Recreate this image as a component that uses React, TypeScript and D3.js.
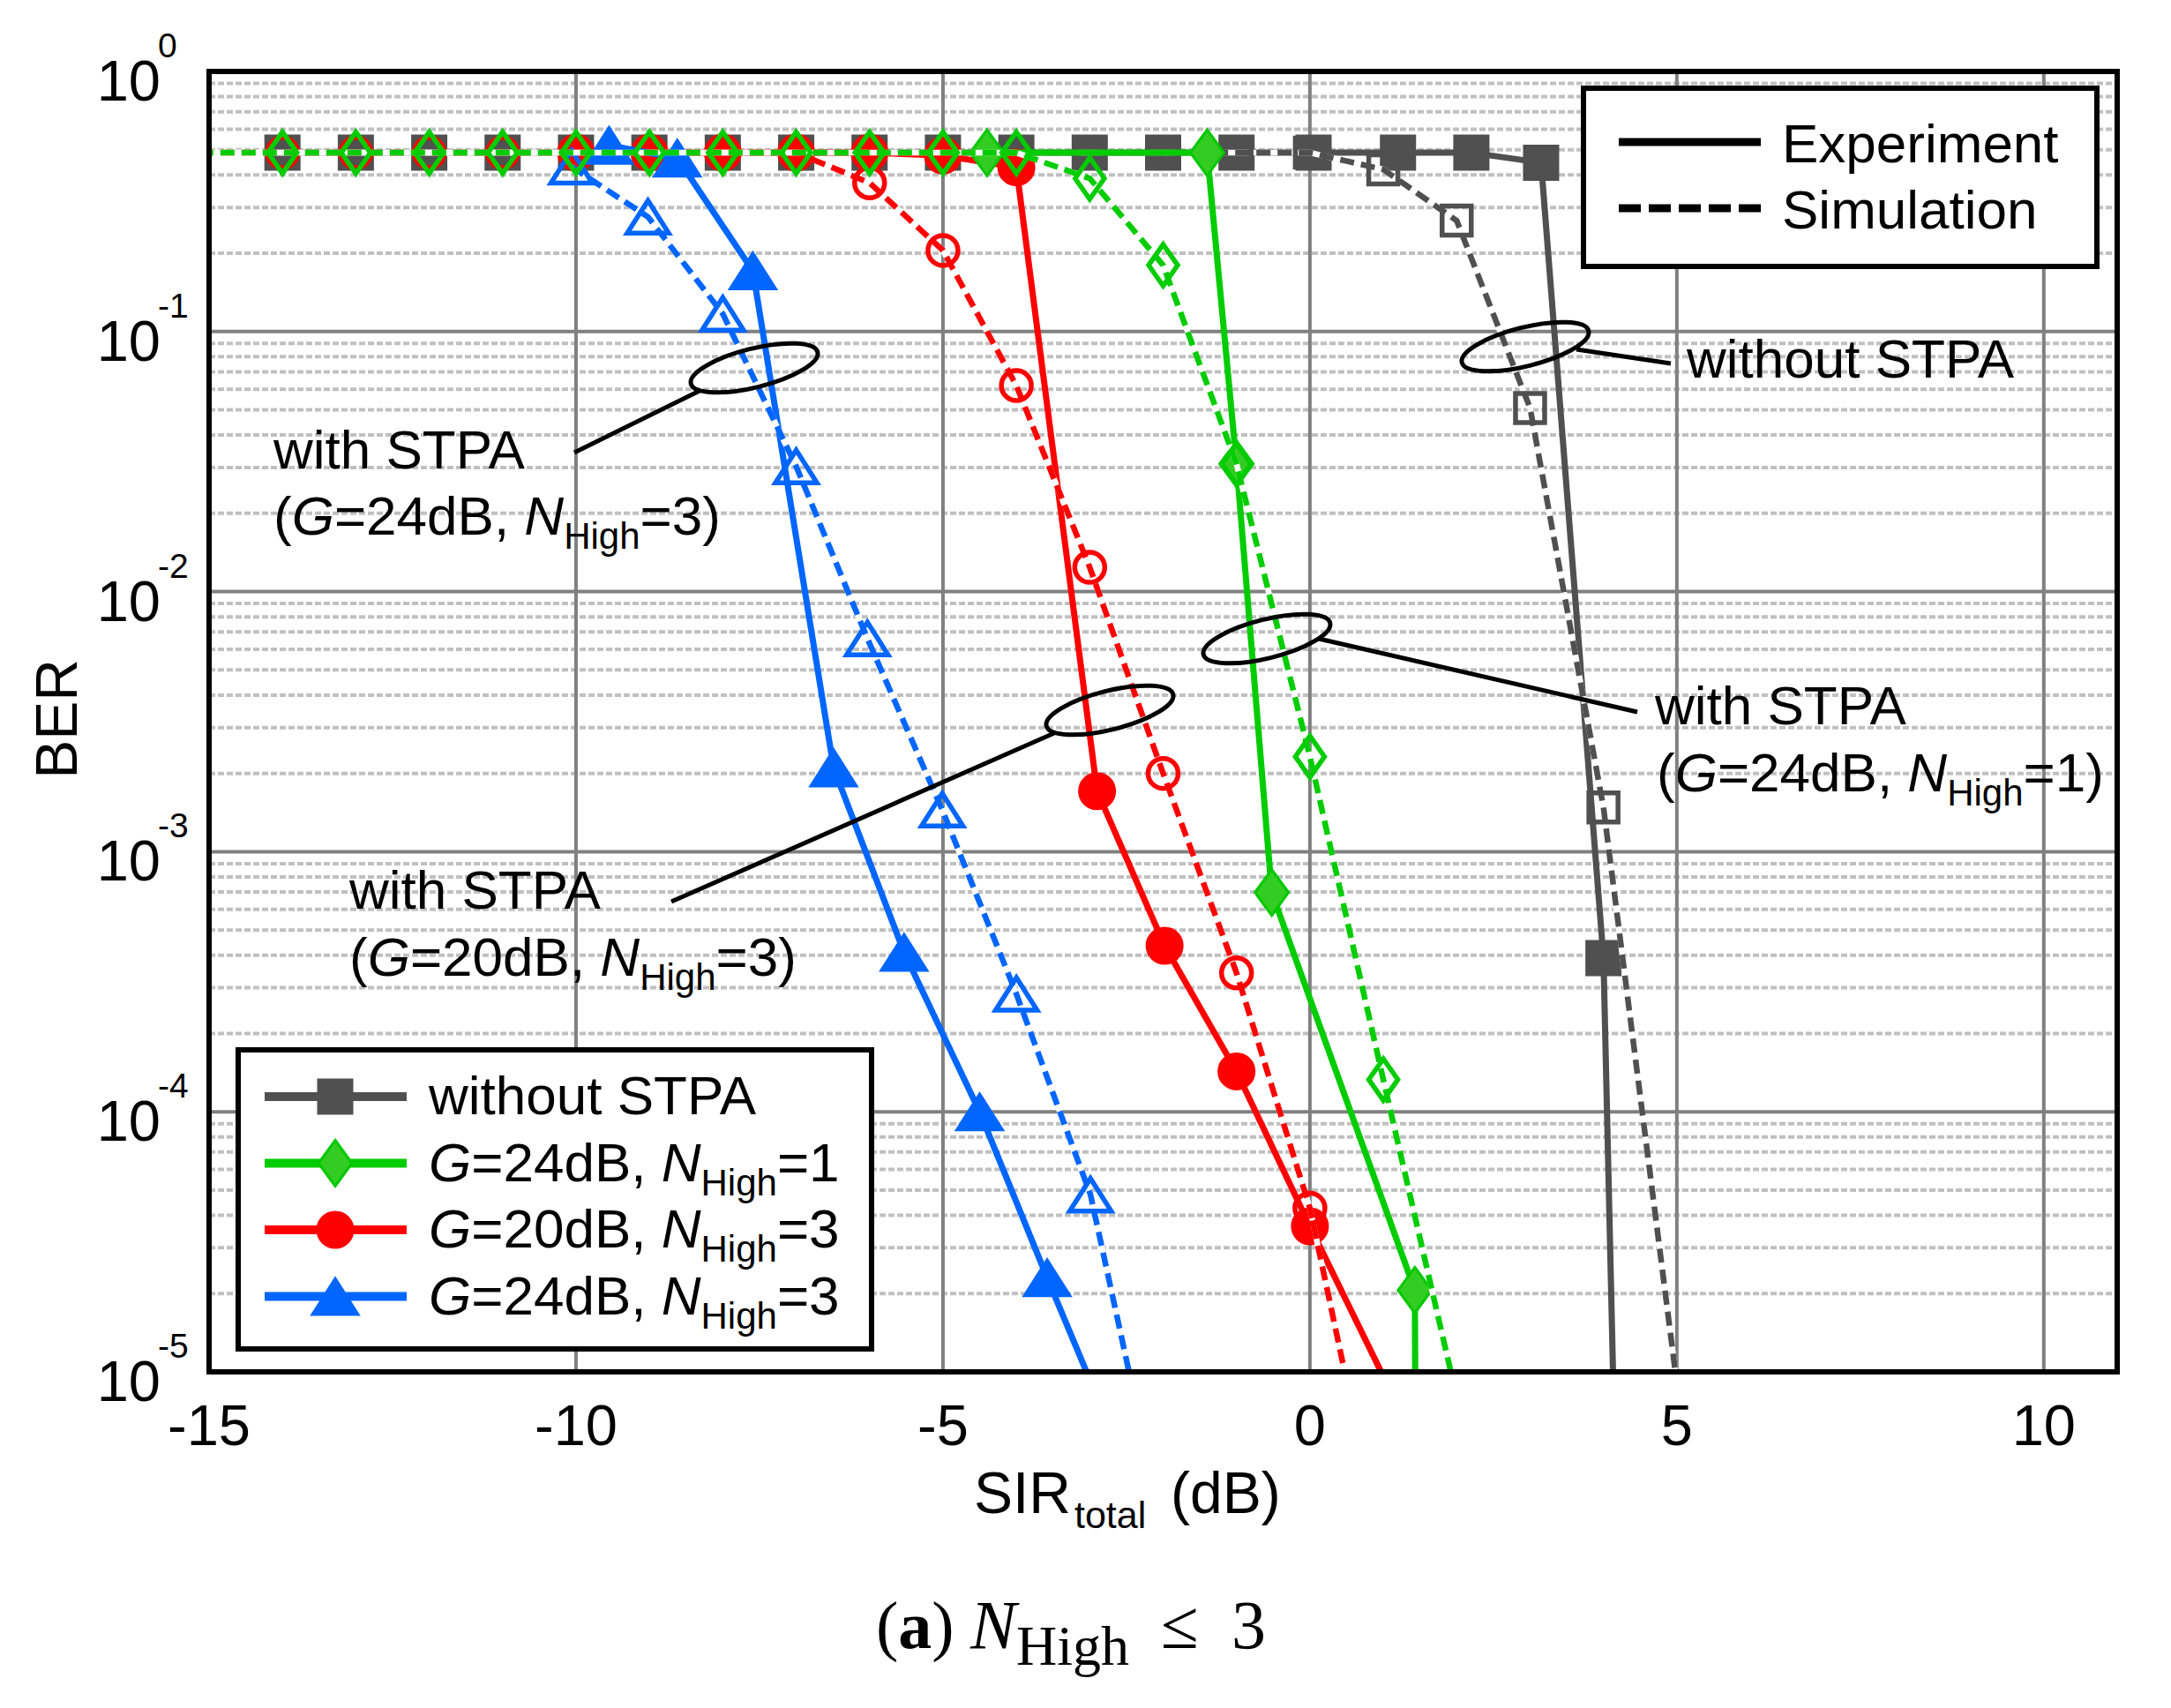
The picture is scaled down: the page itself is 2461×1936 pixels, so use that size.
import { useEffect, useRef } from "react";
import * as d3 from "d3";

// without STPA
const sirNoStpaExp = [-14, -13, -12, -11, -10, -9, -8, -7, -6, -5, -4, -3, -2, -1, 0.05, 1.2, 2.2, 3.15, 4.0, 4.2];
const berNoStpaExp = [0.487, 0.487, 0.487, 0.487, 0.487, 0.487, 0.487, 0.487, 0.487, 0.487, 0.487, 0.487, 0.487, 0.487, 0.487, 0.487, 0.487, 0.446, 3.9e-4, 1.4e-6];
const sirNoStpaSim = [-14, -13, -12, -11, -10, -9, -8, -7, -6, -5, -4, -3, -2, -1, 0, 1, 2, 3, 4, 5];
const berNoStpaSim = [0.487, 0.487, 0.487, 0.487, 0.487, 0.487, 0.487, 0.487, 0.487, 0.487, 0.487, 0.487, 0.487, 0.487, 0.487, 0.42, 0.267, 0.0508, 1.48e-3, 9e-6];

// G=24dB, N_High=1
const sirG24N1Exp = [-4.4, -1.4, -1.0, -0.52, 1.43, 1.45];
const berG24N1Exp = [0.487, 0.487, 0.031, 6.97e-4, 2.06e-5, 1e-6];
const sirG24N1Sim = [-16, -14, -13, -12, -11, -10, -9, -8, -7, -6, -5, -4, -3, -2, -1, 0, 1, 2];
const berG24N1Sim = [0.487, 0.487, 0.487, 0.487, 0.487, 0.487, 0.487, 0.487, 0.487, 0.487, 0.487, 0.487, 0.388, 0.18, 0.031, 2.32e-3, 1.33e-4, 8e-6];

// G=20dB, N_High=3
const sirG20N3Exp = [-10, -9, -8, -7, -6, -5, -4, -2.9, -1.98, -1.0, 0.0, 1.05];
const berG20N3Exp = [0.487, 0.487, 0.487, 0.487, 0.487, 0.475, 0.428, 1.71e-3, 4.35e-4, 1.43e-4, 3.63e-5, 9e-6];
const sirG20N3Sim = [-16, -14, -13, -12, -11, -10, -9, -8, -7, -6, -5, -4, -3, -2, -1, 0, 1];
const berG20N3Sim = [0.487, 0.487, 0.487, 0.487, 0.487, 0.487, 0.487, 0.487, 0.487, 0.373, 0.205, 0.062, 0.0124, 2.0e-3, 3.42e-4, 4.26e-5, 2e-6];

// G=24dB, N_High=3
const sirG24N3Exp = [-9.55, -8.62, -7.59, -6.49, -5.53, -4.5, -3.58, -2.5];
const berG24N3Exp = [0.52, 0.464, 0.171, 2.1e-3, 4.1e-4, 1.0e-4, 2.3e-5, 4.3e-6];
const sirG24N3Sim = [-10.06, -9.02, -8.0, -7.0, -6.03, -5.01, -4.0, -2.99, -2.0];
const berG24N3Sim = [0.43, 0.276, 0.117, 0.0303, 6.6e-3, 1.45e-3, 2.84e-4, 4.8e-5, 2.5e-6];

const sirTicks = [-15, -10, -5, 0, 5, 10];
const berExponents = [0, -1, -2, -3, -4, -5];
const styleLabels = ["Experiment", "Simulation"];

type Part = { t: string; it?: boolean; sub?: boolean; b?: boolean };

const label = (g: string, n: string): Part[] => [
  { t: "G", it: true },
  { t: `=${g}dB, ` },
  { t: "N", it: true },
  { t: "High", sub: true },
  { t: `=${n}` },
];

const legendLabels: Part[][] = [
  [{ t: "without STPA" }],
  label("24", "1"),
  label("20", "3"),
  label("24", "3"),
];

const SANS = "'Liberation Sans', Arial, sans-serif";
const SERIF = "'Liberation Serif', 'Times New Roman', serif";

function markerPath(shape: string, open: boolean) {
  if (shape === "square") {
    const h = open ? 16.5 : 19;
    return `M${-h},${-h}H${h}V${h}H${-h}Z`;
  }
  if (shape === "diamond") {
    const w = open ? 16.5 : 19;
    const h = open ? 23.5 : 26;
    return `M0,${-h}L${w},0L0,${h}L${-w},0Z`;
  }
  if (shape === "triangle") {
    const w = open ? 23.5 : 26;
    const h = open ? 18.5 : 20.5;
    return `M0,${-h}L${w},${h}L${-w},${h}Z`;
  }
  const r = open ? 17 : 20;
  return `M${r},0A${r},${r} 0 1,1 ${-r},0A${r},${r} 0 1,1 ${r},0Z`;
}

function richText(
  g: d3.Selection<SVGGElement, unknown, null, undefined>,
  x: number,
  y: number,
  parts: Part[],
  size: number,
  subSize: number,
  subDy: number,
  family: string
) {
  const text = g
    .append("text")
    .attr("x", x)
    .attr("y", y)
    .style("font-family", family)
    .style("font-size", `${size}px`)
    .style("white-space", "pre")
    .attr("fill", "#000");
  let lowered = false;
  parts.forEach((p) => {
    const ts = text.append("tspan").text(p.t);
    if (p.it) ts.style("font-style", "italic");
    if (p.b) ts.style("font-weight", "bold");
    if (p.sub) {
      ts.style("font-size", `${subSize}px`);
      if (!lowered) ts.attr("dy", subDy);
      lowered = true;
    } else if (lowered) {
      ts.attr("dy", -subDy);
      lowered = false;
    }
  });
  return text;
}

export default function App() {
  const ref = useRef<SVGSVGElement>(null);

  useEffect(() => {
    document.body.style.margin = "0";
    if (!ref.current) return;
    const svg = d3.select(ref.current);
    svg.selectAll("*").remove();

    const left = 237;
    const right = 2400;
    const top = 81;
    const bottom = 1555;

    const x = d3.scaleLinear().domain([-15, 11]).range([left, right]);
    const y = d3.scaleLog().domain([1e-5, 1]).range([bottom, top]);

    const series = [
      { color: "#505050", fill: "#505050", edge: "#505050", shape: "square", exp: [sirNoStpaExp, berNoStpaExp], sim: [sirNoStpaSim, berNoStpaSim] },
      { color: "#ff0000", fill: "#ff0000", edge: "#ff0000", shape: "circle", exp: [sirG20N3Exp, berG20N3Exp], sim: [sirG20N3Sim, berG20N3Sim] },
      { color: "#0066ff", fill: "#0066ff", edge: "#0066ff", shape: "triangle", exp: [sirG24N3Exp, berG24N3Exp], sim: [sirG24N3Sim, berG24N3Sim] },
      { color: "#00cc00", fill: "#33cc22", edge: "#00c800", shape: "diamond", exp: [sirG24N1Exp, berG24N1Exp], sim: [sirG24N1Sim, berG24N1Sim] },
    ];
    // legend order differs from drawing order
    const legendSeries = [series[0], series[3], series[1], series[2]];

    svg.append("rect").attr("width", 2461).attr("height", 1936).attr("fill", "#fff");

    svg
      .append("defs")
      .append("clipPath")
      .attr("id", "plot-clip")
      .append("rect")
      .attr("x", left)
      .attr("y", top)
      .attr("width", right - left)
      .attr("height", bottom - top);

    // minor horizontal grid (dotted)
    const grid = svg.append("g");
    const minor: number[] = [];
    for (let e = -5; e < 0; e++) for (let m = 2; m <= 9; m++) minor.push(m * Math.pow(10, e));
    grid
      .selectAll(".minor")
      .data(minor)
      .enter()
      .append("line")
      .attr("x1", left)
      .attr("x2", right)
      .attr("y1", (d) => y(d))
      .attr("y2", (d) => y(d))
      .attr("stroke", "#c0c0c0")
      .attr("stroke-width", 4)
      .attr("stroke-dasharray", "7 3");

    // major grid
    grid
      .selectAll(".hmajor")
      .data(berExponents.filter((e) => e !== 0 && e !== -5))
      .enter()
      .append("line")
      .attr("x1", left)
      .attr("x2", right)
      .attr("y1", (d) => y(Math.pow(10, d)))
      .attr("y2", (d) => y(Math.pow(10, d)))
      .attr("stroke", "#808080")
      .attr("stroke-width", 4);
    grid
      .selectAll(".vmajor")
      .data(sirTicks.filter((t) => t !== -15))
      .enter()
      .append("line")
      .attr("x1", (d) => x(d))
      .attr("x2", (d) => x(d))
      .attr("y1", top)
      .attr("y2", bottom)
      .attr("stroke", "#808080")
      .attr("stroke-width", 4);

    const plot = svg.append("g").attr("clip-path", "url(#plot-clip)");
    const line = d3
      .line<[number, number]>()
      .x((d) => x(d[0]))
      .y((d) => y(d[1]));
    const inside = (d: [number, number]) => d[0] >= -15 && d[0] <= 11 && d[1] >= 1e-5 && d[1] <= 1;

    series.forEach((s) => {
      const expPts = s.exp[0].map((v, i) => [v, s.exp[1][i]] as [number, number]);
      const simPts = s.sim[0].map((v, i) => [v, s.sim[1][i]] as [number, number]);

      // experiment: solid line, filled marker
      plot
        .append("path")
        .attr("d", line(expPts))
        .attr("fill", "none")
        .attr("stroke", s.color)
        .attr("stroke-width", 7)
        .attr("stroke-linejoin", "round");
      plot
        .selectAll(null)
        .data(expPts.filter(inside))
        .enter()
        .append("path")
        .attr("d", markerPath(s.shape, false))
        .attr("transform", (d) => `translate(${x(d[0])},${y(d[1])})`)
        .attr("fill", s.fill)
        .attr("stroke", s.edge)
        .attr("stroke-width", 3);

      // simulation: dashed line on white, open marker
      plot
        .append("path")
        .attr("d", line(simPts))
        .attr("fill", "none")
        .attr("stroke", "#fff")
        .attr("stroke-width", 6.5);
      plot
        .append("path")
        .attr("d", line(simPts))
        .attr("fill", "none")
        .attr("stroke", s.color)
        .attr("stroke-width", 6.5)
        .attr("stroke-dasharray", "16 8");
      plot
        .selectAll(null)
        .data(simPts.filter(inside))
        .enter()
        .append("path")
        .attr("d", markerPath(s.shape, true))
        .attr("transform", (d) => `translate(${x(d[0])},${y(d[1])})`)
        .attr("fill", "none")
        .attr("stroke", s.color)
        .attr("stroke-width", 5.5);
    });

    // annotations: ellipses + leader lines
    const ann = svg.append("g");
    const ellipses = [
      { cx: 855, cy: 417, lx1: 793, ly1: 443, lx2: 651, ly2: 513 },
      { cx: 1729, cy: 393, lx1: 1787, ly1: 396, lx2: 1894, ly2: 412 },
      { cx: 1436, cy: 724, lx1: 1495, ly1: 724, lx2: 1856, ly2: 807 },
      { cx: 1258, cy: 805, lx1: 1195, ly1: 831, lx2: 761, ly2: 1022 },
    ];
    ellipses.forEach((e) => {
      ann
        .append("ellipse")
        .attr("cx", 0)
        .attr("cy", 0)
        .attr("rx", 74)
        .attr("ry", 22)
        .attr("transform", `translate(${e.cx},${e.cy}) rotate(-14)`)
        .attr("fill", "none")
        .attr("stroke", "#000")
        .attr("stroke-width", 5);
      ann
        .append("line")
        .attr("x1", e.lx1)
        .attr("y1", e.ly1)
        .attr("x2", e.lx2)
        .attr("y2", e.ly2)
        .attr("stroke", "#000")
        .attr("stroke-width", 5);
    });
    const paren = (g: string, n: string): Part[] => [{ t: "(" }, ...label(g, n), { t: ")" }];
    richText(ann, 310, 531, [{ t: "with STPA" }], 62, 42, 16, SANS);
    richText(ann, 310, 606, paren("24", "3"), 62, 42, 16, SANS);
    richText(ann, 1912, 428, [{ t: "without STPA" }], 62, 42, 16, SANS);
    richText(ann, 1876, 821, [{ t: "with STPA" }], 62, 42, 16, SANS);
    richText(ann, 1878, 897, paren("24", "1"), 62, 42, 16, SANS);
    richText(ann, 396, 1030, [{ t: "with STPA" }], 62, 42, 16, SANS);
    richText(ann, 396, 1106, paren("20", "3"), 62, 42, 16, SANS);

    // line-style legend (top right)
    const lg1 = svg.append("g");
    lg1
      .append("rect")
      .attr("x", 1795)
      .attr("y", 100)
      .attr("width", 582)
      .attr("height", 202)
      .attr("fill", "#fff")
      .attr("stroke", "#000")
      .attr("stroke-width", 6);
    styleLabels.forEach((lab, i) => {
      const ly = 161 + i * 75;
      lg1
        .append("line")
        .attr("x1", 1835)
        .attr("x2", 1996)
        .attr("y1", ly)
        .attr("y2", ly)
        .attr("stroke", "#000")
        .attr("stroke-width", 9)
        .attr("stroke-dasharray", i === 1 ? "25 9" : null);
      richText(lg1, 2020, ly + 23, [{ t: lab }], 62, 42, 16, SANS);
    });

    // series legend (bottom left)
    const lg2 = svg.append("g");
    lg2
      .append("rect")
      .attr("x", 270)
      .attr("y", 1190)
      .attr("width", 718)
      .attr("height", 339)
      .attr("fill", "#fff")
      .attr("stroke", "#000")
      .attr("stroke-width", 6);
    legendSeries.forEach((s, i) => {
      const ly = 1243 + i * 75.5;
      lg2
        .append("line")
        .attr("x1", 300)
        .attr("x2", 461)
        .attr("y1", ly)
        .attr("y2", ly)
        .attr("stroke", s.color)
        .attr("stroke-width", 10);
      lg2
        .append("path")
        .attr("d", markerPath(s.shape, false))
        .attr("transform", `translate(380,${ly})`)
        .attr("fill", s.fill)
        .attr("stroke", s.edge)
        .attr("stroke-width", 3);
      richText(lg2, 486, ly + 20, legendLabels[i], 62, 42, 16, SANS);
    });

    // frame
    svg
      .append("rect")
      .attr("x", left)
      .attr("y", top)
      .attr("width", right - left)
      .attr("height", bottom - top)
      .attr("fill", "none")
      .attr("stroke", "#000")
      .attr("stroke-width", 6);

    // y tick labels 10^k
    const yt = svg.append("g").style("font-family", SANS).attr("fill", "#000");
    berExponents.forEach((e) => {
      const ty = y(Math.pow(10, e));
      yt.append("text").attr("x", 182).attr("y", ty + 33).attr("text-anchor", "end").style("font-size", "65px").text("10");
      yt.append("text").attr("x", 179).attr("y", ty - 16).style("font-size", "39px").text(`${e === 0 ? "0" : "-" + Math.abs(e)}`);
    });

    // x tick labels
    const xt = svg.append("g").style("font-family", SANS).attr("fill", "#000");
    sirTicks.forEach((t) => {
      xt.append("text")
        .attr("x", x(t))
        .attr("y", 1638)
        .attr("text-anchor", "middle")
        .style("font-size", "65px")
        .text(t < 0 ? `-${Math.abs(t)}` : `${t}`);
    });

    // axis titles
    const titles = svg.append("g").style("font-family", SANS).attr("fill", "#000");
    titles.append("text").attr("x", 1104).attr("y", 1715).style("font-size", "66px").text("SIR");
    titles.append("text").attr("x", 1218).attr("y", 1732).style("font-size", "43px").text("total");
    titles.append("text").attr("x", 1327).attr("y", 1715).style("font-size", "66px").text("(dB)");
    titles
      .append("text")
      .attr("transform", "translate(87,815) rotate(-90)")
      .attr("text-anchor", "middle")
      .style("font-size", "66px")
      .text("BER");

    // caption
    const cap = svg.append("g");
    richText(cap, 993, 1868, [{ t: "(" }, { t: "a", b: true }, { t: ")" }], 76, 56, 19, SERIF);
    richText(cap, 1100, 1868, [{ t: "N", it: true }, { t: "High", sub: true }], 78, 64, 19, SERIF);
    richText(cap, 1316, 1868, [{ t: "≤" }], 78, 56, 19, SERIF);
    richText(cap, 1396, 1868, [{ t: "3" }], 78, 56, 19, SERIF);
  }, []);

  return <svg ref={ref} width={2461} height={1936} style={{ display: "block" }} />;
}
